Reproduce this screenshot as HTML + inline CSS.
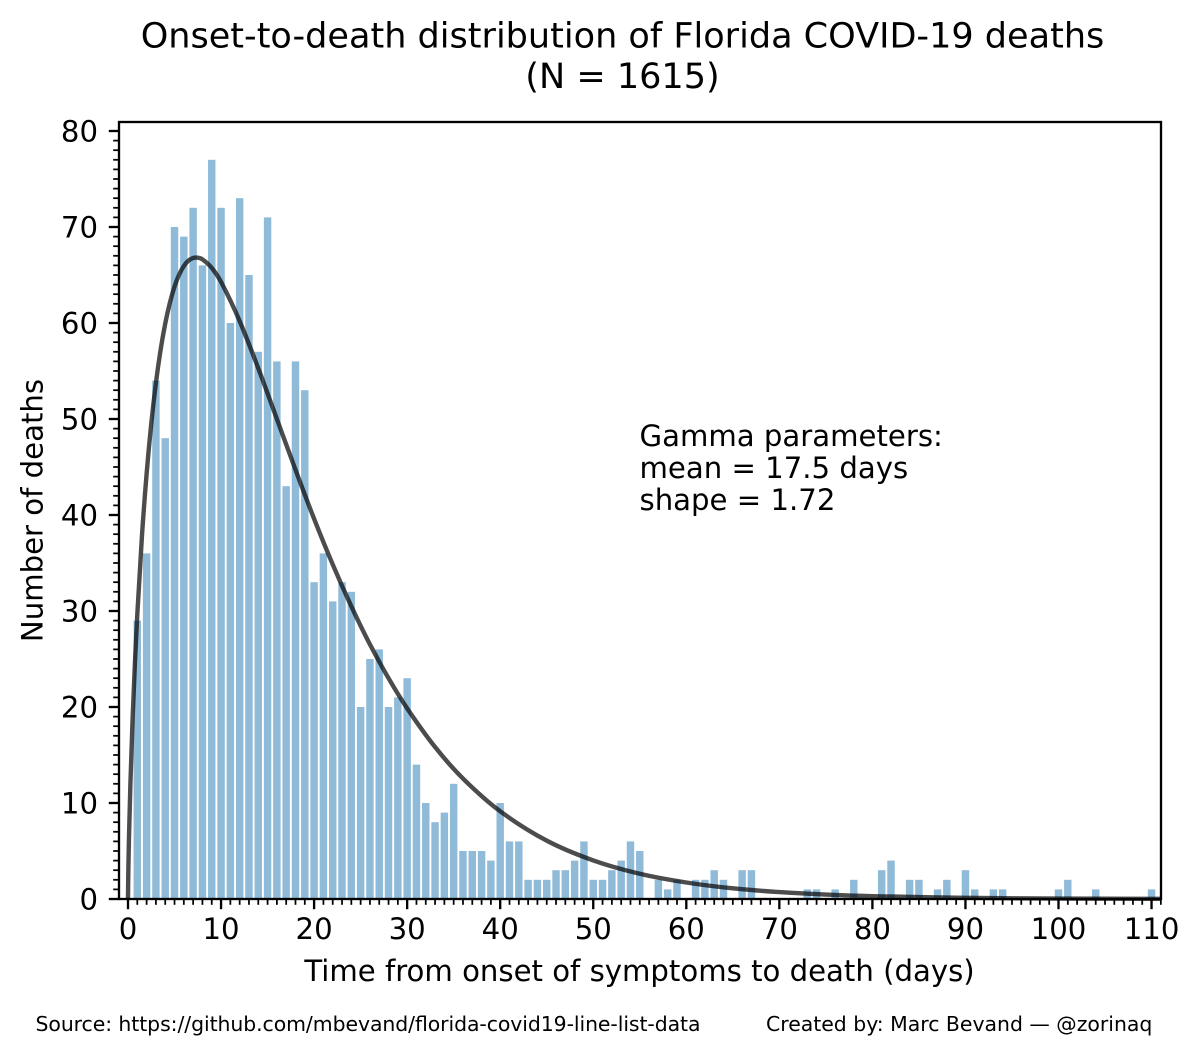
<!DOCTYPE html>
<html lang="en">
<head>
<meta charset="utf-8">
<title>Onset-to-death distribution of Florida COVID-19 deaths</title>
<style>
html,body{margin:0;padding:0;background:#fff;}
svg{display:block;}
text{font-family:"DejaVu Sans","Liberation Sans",sans-serif;fill:#000;}
</style>
</head>
<body>
<svg id="chart" xmlns="http://www.w3.org/2000/svg" width="1200" height="1056" viewBox="0 0 1200 1056">
  <rect x="0" y="0" width="1200" height="1056" fill="#fff"/>
  <text x="622.5" y="47.5" font-size="35.05" text-anchor="middle">Onset-to-death distribution of Florida COVID-19 deaths</text>
  <text x="622.5" y="88" font-size="35.05" text-anchor="middle">(N = 1615)</text>
  <g id="bars"></g>
  <path id="curve" fill="none" stroke="#000" stroke-opacity="0.7" stroke-width="4.4"/>
  <g id="ticks"></g>
  <rect x="119" y="122" width="1042" height="777" fill="none" stroke="#000" stroke-width="2.33"/>
  <g id="tick-labels" font-size="29.17"></g>
  <text x="639.5" y="981" font-size="29.17" text-anchor="middle">Time from onset of symptoms to death (days)</text>
  <text transform="translate(42.5 510.5) rotate(-90)" font-size="29.17" text-anchor="middle">Number of deaths</text>
  <g font-size="29.17">
    <text x="639.5" y="446">Gamma parameters:</text>
    <text x="639.5" y="478">mean = 17.5 days</text>
    <text x="639.5" y="510">shape = 1.72</text>
  </g>
  <text x="35.5" y="1031" font-size="20.42" textLength="665" lengthAdjust="spacing">Source: https://github.com/mbevand/florida-covid19-line-list-data</text>
  <text x="766" y="1031" font-size="20.42">Created by: Marc Bevand — @zorinaq</text>
</svg>
<script>
var deathsPerDay = [0,29,36,54,48,70,69,72,66,77,72,60,73,65,57,71,56,43,56,53,33,36,31,33,32,20,25,26,20,21,23,14,10,8,9,12,5,5,5,4,10,6,6,2,2,2,3,3,4,6,2,2,3,4,6,5,0,2,1,2,0,2,2,3,2,0,3,3,0,0,0,0,0,1,1,0,1,0,2,0,0,3,4,0,2,2,0,1,2,0,3,1,0,1,1,0,0,0,0,0,1,2,0,0,1,0,0,0,0,0,1];
var curveDays = [0,0.02,0.05,0.1,0.25,0.5,0.75,1,1.5,2,2.5,3,3.5,4,4.5,5,5.5,6,6.5,7,7.5,8,9,10,12,14,16,18,20,22,24,26,28,30,33,36,40,45,50,55,60,65,70,75,80,90,100,110,111];
var curveValues = [0,1.95,3.77,6.17,11.77,18.92,24.71,29.67,37.82,44.29,49.52,53.75,57.18,59.93,62.1,63.79,65.05,65.93,66.5,66.77,66.8,66.63,65.74,64.28,60.2,55.28,50.0,44.71,39.6,34.85,30.49,26.52,23.0,19.86,15.83,12.55,9.14,6.08,4.02,2.63,1.72,1.11,0.72,0.46,0.295,0.12,0.048,0.019,0.017];
var xTickValues = [0,10,20,30,40,50,60,70,80,90,100,110];
var yTickValues = [0,10,20,30,40,50,60,70,80];
var xMinorMax = 111;
var yMinorMax = 80;

var SVG_NS = 'http://www.w3.org/2000/svg';
function xScale(v){ return 128 + v * 9.305; }
function yScale(v){ return 899 - v * 9.6; }

var barLayer = document.getElementById('bars');
deathsPerDay.forEach(function(v, day){
  if (!v) return;
  var r = document.createElementNS(SVG_NS, 'rect');
  
  
  var w = 0.8 * 9.305;
  r.setAttribute('x', (xScale(day) - w / 2).toFixed(2));
  r.setAttribute('y', yScale(v).toFixed(2));
  r.setAttribute('width', w.toFixed(2));
  r.setAttribute('height', (yScale(0) - yScale(v)).toFixed(2));
  r.setAttribute('fill', '#1f77b4');
  r.setAttribute('fill-opacity', '0.5');
  barLayer.appendChild(r);
});

// Smooth path through the curve readings
var pts = curveDays.map(function(d, i){ return [xScale(d), yScale(curveValues[i])]; });
var d = 'M' + pts[0][0].toFixed(2) + ' ' + pts[0][1].toFixed(2);
for (var i = 0; i < pts.length - 1; i++) {
  var p0 = pts[Math.max(i - 1, 0)], p1 = pts[i], p2 = pts[i + 1], p3 = pts[Math.min(i + 2, pts.length - 1)];
  var h = p2[0] - p1[0];
  var m1 = (p2[1] - p0[1]) / ((p2[0] - p0[0]) || 1);
  var m2 = (p3[1] - p1[1]) / ((p3[0] - p1[0]) || 1);
  d += 'C' + (p1[0] + h / 3).toFixed(2) + ' ' + (p1[1] + m1 * h / 3).toFixed(2) + ' ' +
       (p2[0] - h / 3).toFixed(2) + ' ' + (p2[1] - m2 * h / 3).toFixed(2) + ' ' +
       p2[0].toFixed(2) + ' ' + p2[1].toFixed(2);
}
document.getElementById('curve').setAttribute('d', d);

var tickLayer = document.getElementById('ticks');
function addTick(name, x1, y1, x2, y2, w){
  var l = document.createElementNS(SVG_NS, 'line');
  
  
  l.setAttribute('x1', x1); l.setAttribute('y1', y1);
  l.setAttribute('x2', x2); l.setAttribute('y2', y2);
  l.setAttribute('stroke', '#000');
  l.setAttribute('stroke-width', w);
  tickLayer.appendChild(l);
}
var k;
for (k = 0; k <= xMinorMax; k++) {
  if (xTickValues.indexOf(k) < 0) addTick('x-minor-tick', xScale(k), 899, xScale(k), 904.8, 1.75);
}
for (k = 0; k <= yMinorMax; k++) {
  if (yTickValues.indexOf(k) < 0) addTick('y-minor-tick', 119, yScale(k), 113.2, yScale(k), 1.75);
}
var labelLayer = document.getElementById('tick-labels');
xTickValues.forEach(function(v){
  addTick('x-major-tick', xScale(v), 899, xScale(v), 909.2, 2.33);
  var t = document.createElementNS(SVG_NS, 'text');
  
  
  t.setAttribute('x', xScale(v));
  t.setAttribute('y', 939);
  t.setAttribute('text-anchor', 'middle');
  t.textContent = String(v);
  labelLayer.appendChild(t);
});
yTickValues.forEach(function(v){
  addTick('y-major-tick', 119, yScale(v), 108.8, yScale(v), 2.33);
  var t = document.createElementNS(SVG_NS, 'text');
  
  
  t.setAttribute('x', 98);
  t.setAttribute('y', yScale(v) + 10.5);
  t.setAttribute('text-anchor', 'end');
  t.textContent = String(v);
  labelLayer.appendChild(t);
});
</script>
</body>
</html>
